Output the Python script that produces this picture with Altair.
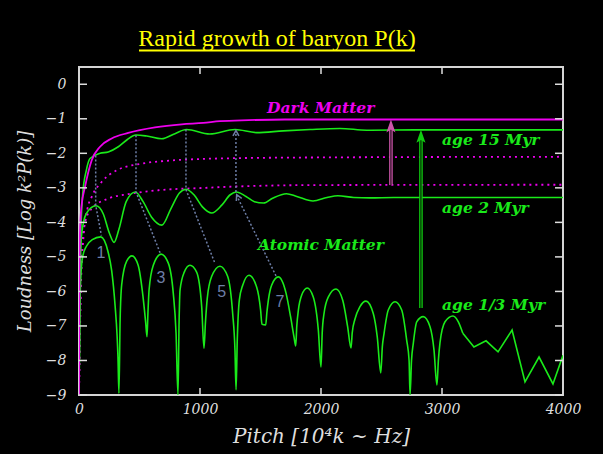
import altair as alt
import pandas as pd

# ---- data -------------------------------------------------------------
# Dark matter spectrum today
dm_k = [0, 3, 8, 20, 50, 105, 174, 270, 407, 628, 849, 1027, 1165, 1400, 1700, 2200, 4000]
dm_p = [-9.0, -6.0, -4.3, -3.55, -2.97, -2.2, -1.81, -1.57, -1.41, -1.25, -1.16, -1.12,
        -1.07, -1.04, -1.02, -1.02, -1.02]

# Dark matter at earlier epochs (dotted)
dm_mid_k = [0, 15, 40, 70, 105, 187, 325, 518, 793, 1041, 1303, 1965, 4000]
dm_mid_p = [-9.0, -6.0, -4.3, -3.6, -3.26, -2.83, -2.47, -2.3, -2.2, -2.16, -2.14, -2.12, -2.1]
dm_early_k = [0, 12, 25, 50, 105, 242, 407, 655, 1041, 1303, 1965, 4000]
dm_early_p = [-9.0, -6.2, -4.7, -4.0, -3.6, -3.31, -3.18, -3.07, -3.0, -2.96, -2.92, -2.91]

# Baryons at age 15 Myr
age15_k = [0, 10, 30, 60, 91, 174, 242, 325, 400, 470, 560, 683, 793, 888, 1080,
           1290, 1468, 1688, 1909, 2157, 2378, 2800, 4000]
age15_p = [-9.0, -5.0, -3.2, -2.5, -2.15, -2.0, -1.96, -1.81, -1.6, -1.47, -1.5, -1.58,
           -1.43, -1.31, -1.44, -1.31, -1.4, -1.35, -1.31, -1.28, -1.33, -1.32, -1.32]

# Baryons at age 2 Myr
age2_k = [0, 8, 20, 60, 140, 200, 250, 290, 330, 390, 465, 530, 600, 685, 760, 830, 885,
          950, 1020, 1097, 1180, 1250, 1300, 1380, 1450, 1525, 1600, 1715, 1800, 1934,
          2050, 2140, 2270, 2405, 2600, 4000]
age2_p = [-9.0, -6.0, -4.4, -3.75, -3.52, -3.75, -4.3, -4.58, -4.2, -3.4, -3.12, -3.4,
          -3.85, -4.08, -3.6, -3.15, -3.04, -3.2, -3.55, -3.73, -3.5, -3.2, -3.12, -3.25,
          -3.4, -3.44, -3.3, -3.17, -3.25, -3.38, -3.28, -3.23, -3.28, -3.29, -3.28, -3.28]

# Baryons (atomic matter) at age 1/3 Myr: acoustic peaks
atom_k = [0, 6, 15, 30, 60, 110, 180, 240, 270, 298, 315, 322, 330,
          340, 353, 394, 438, 489, 529, 551, 562,
          570, 579, 614, 678, 738, 779, 802, 818,
          827, 835, 870, 917, 972, 1014, 1033,
          1045, 1060, 1096, 1165, 1229, 1270, 1289, 1298,
          1308, 1325, 1353, 1405, 1468, 1501, 1512, 1543,
          1553, 1565, 1592, 1647, 1711, 1749, 1777, 1791,
          1800, 1813, 1840, 1886, 1936, 1978, 2000,
          2010, 2025, 2061, 2124, 2179, 2220, 2248,
          2258, 2281, 2322, 2372, 2432, 2465, 2494,
          2507, 2521, 2556, 2612, 2667, 2708, 2728, 2736,
          2748, 2763, 2791, 2845, 2901, 2934, 2958,
          2970, 2983, 3025, 3090, 3135, 3172]
atom_p = [-9.0, -6.8, -5.6, -5.0, -4.7, -4.5, -4.42, -4.85, -5.4, -6.4, -7.3, -7.9, -8.95,
          -6.8, -5.8, -5.12, -4.97, -5.24, -6.15, -6.9, -7.31,
          -6.6, -5.96, -5.24, -4.92, -5.18, -6.05, -7.2, -9.0,
          -6.9, -5.96, -5.44, -5.24, -5.44, -6.44, -7.65,
          -6.9, -6.2, -5.57, -5.27, -5.57, -6.64, -7.7, -8.85,
          -7.4, -6.25, -5.82, -5.53, -5.87, -6.54, -6.95, -6.97,
          -6.6, -6.25, -5.82, -5.58, -6.05, -6.74, -7.32, -7.58,
          -7.0, -6.54, -6.11, -5.9, -6.16, -7.12, -8.19,
          -7.2, -6.64, -6.16, -5.93, -6.25, -7.02, -7.64,
          -7.2, -6.8, -6.44, -6.28, -6.64, -7.32, -8.36,
          -7.6, -7.22, -6.54, -6.3, -6.54, -7.41, -8.0, -9.0,
          -8.0, -7.5, -6.88, -6.73, -7.02, -7.7, -8.71,
          -8.0, -7.5, -6.88, -6.71, -6.88, -7.21]
# unresolved high-k tail
tail_k = [3172, 3264, 3364, 3463, 3579, 3686, 3802, 3917, 4000]
tail_p = [-7.21, -7.61, -7.43, -7.75, -7.12, -8.62, -7.9, -8.68, -7.85]

# Dotted guides linking odd peaks across epochs
conn_id = [1, 1, 1, 3, 3, 3, 5, 5, 5, 6, 6, 7, 7]
conn_k = [138, 138, 185, 471, 471, 670, 884, 884, 1124, 1297, 1297, 1628, 1303]
conn_p = [-2.06, -3.5, -4.38, -1.48, -3.12, -4.88, -1.31, -3.05, -5.19, -3.12, -1.38, -5.55, -3.22]
guide_head_k = [1297, 1303]
guide_head_p = [-1.34, -3.2]

peak_text = ["1", "3", "5", "7"]
peak_k = [182, 678, 1179, 1661]
peak_p = [-4.9, -5.6, -6.01, -6.3]

# Growth arrows
dm_arrow_k = [2578]
dm_arrow_from = [-2.92]
dm_arrow_to = [-1.02]
bar_arrow_k = [2826]
bar_arrow_from = [-6.48]
bar_arrow_to = [-1.32]

green_text = ["age 15 Myr", "age 2 Myr", "Atomic Matter", "age 1/3 Myr"]
green_k = [3000, 3000, 1479, 3000]
green_p = [-1.62, -3.59, -4.66, -6.39]
dm_text = ["Dark Matter"]
dm_text_k = [1554]
dm_text_p = [-0.69]

x_ticks = [0, 1000, 2000, 3000, 4000]
x_inner_ticks = [1000, 2000, 3000]
y_ticks = [-9, -8, -7, -6, -5, -4, -3, -2, -1, 0]

# ---- style ------------------------------------------------------------
GREEN = "#1aea1a"
MAGENTA = "#ee00ee"
SLATE = "#6d7ea6"
PINK = "#cc55aa"
ARROW_GREEN = "#10cc10"
AXIS = "#dedede"
W, H = 484, 328

xs = alt.Scale(domain=[0, 4000], nice=False, zero=False)
ys = alt.Scale(domain=[-9, 0.5], nice=False, zero=False)

x_axis = alt.Axis(values=x_ticks, format="d", title="Pitch [10⁴k ~ Hz]", ticks=False,
                  domain=False, grid=False, labelFont="DejaVu Serif", labelFontStyle="italic",
                  labelFontSize=14, labelColor=AXIS, labelPadding=7, labelFlush=False,
                  titleFont="DejaVu Serif", titleFontStyle="italic", titleFontWeight="normal",
                  titleFontSize=20, titleColor=AXIS, titleX=W / 2, titleY=41,
                  titleAlign="center", titleBaseline="middle")
y_axis = alt.Axis(values=y_ticks, format="d", title="Loudness [Log k²P(k)]", ticks=False,
                  domain=False, grid=False, labelFont="DejaVu Serif", labelFontStyle="italic",
                  labelFontSize=14, labelColor=AXIS, labelPadding=13, labelFlush=False,
                  titleFont="DejaVu Serif", titleFontStyle="italic", titleFontWeight="normal",
                  titleFontSize=18, titleColor=AXIS, titleAngle=270, titleX=-54,
                  titleY=H / 2, titleAlign="center", titleBaseline="middle")

X = alt.X("k:Q", scale=xs, axis=x_axis)
Y = alt.Y("p:Q", scale=ys, axis=y_axis)


def df(k, p, **cols):
    d = pd.DataFrame({"k": k, "p": p})
    for name, vals in cols.items():
        d[name] = vals
    return d


def curve(k, p, color, width=1.6, dash=None, interp="monotone"):
    kw = dict(color=color, strokeWidth=width, interpolate=interp, clip=True)
    if dash:
        kw["strokeDash"] = dash
    return (alt.Chart(df(k, p, idx=list(range(len(k)))))
            .mark_line(**kw).encode(x=X, y=Y, order="idx:Q"))


layers = []

# dotted dark-matter curves
layers.append(curve(dm_mid_k, dm_mid_p, MAGENTA, 1.8, [2, 4]))
layers.append(curve(dm_early_k, dm_early_p, MAGENTA, 1.8, [2, 4]))

# baryon curves
layers.append(curve(age15_k, age15_p, GREEN))
layers.append(curve(age2_k, age2_p, GREEN))
layers.append(curve(atom_k, atom_p, GREEN))
layers.append(curve(tail_k, tail_p, GREEN, interp="linear"))

# dark matter today
layers.append(curve(dm_k, dm_p, MAGENTA, 1.8))

# dotted guides
layers.append(
    alt.Chart(df(conn_k, conn_p, seg=conn_id, idx=list(range(len(conn_id)))))
    .mark_line(color=SLATE, strokeWidth=1.5, strokeDash=[2, 2])
    .encode(x=X, y=Y, detail="seg:N", order="idx:Q")
)
layers.append(
    alt.Chart(df(guide_head_k, guide_head_p, ang=[0, 334]))
    .mark_point(shape="M-1,1.8L0,0L1,1.8", size=36, filled=False, color=SLATE, strokeWidth=1.5,
                opacity=1)
    .encode(x=X, y=Y, angle=alt.Angle("ang:Q", scale=None))
)

# growth arrows: double-stroke shafts with a filled head whose tip sits on the target
for k, p0, p1, col in [(dm_arrow_k, dm_arrow_from, dm_arrow_to, PINK),
                       (bar_arrow_k, bar_arrow_from, bar_arrow_to, ARROW_GREEN)]:
    shaft = df(k, p0, p2=[v - 0.25 for v in p1])
    layers.append(alt.Chart(shaft).mark_rule(color=col, strokeWidth=3.6)
                  .encode(x=X, y=Y, y2="p2:Q"))
    layers.append(alt.Chart(shaft).mark_rule(color="black", strokeWidth=1.0)
                  .encode(x=X, y=Y, y2="p2:Q"))
    layers.append(alt.Chart(df(k, p1)).mark_point(shape="M0,-1L-0.7,1L0,0.55L0.7,1Z", size=169,
                                                    filled=True, color=col, opacity=1)
                  .encode(x=X, y=Y, yOffset=alt.value(6.5)))

# peak numbers
layers.append(
    alt.Chart(df(peak_k, peak_p, t=peak_text))
    .mark_text(font="Liberation Sans", fontSize=16, color=SLATE, align="center",
               baseline="middle")
    .encode(x=X, y=Y, text="t:N")
)

# curve labels
label_style = dict(font="DejaVu Serif", fontStyle="italic", fontWeight="bold", fontSize=15.5,
                   align="left", baseline="middle")
layers.append(
    alt.Chart(df(green_k, green_p, t=green_text)).mark_text(color=GREEN, **label_style)
    .encode(x=X, y=Y, text="t:N")
)
layers.append(
    alt.Chart(df(dm_text_k, dm_text_p, t=dm_text)).mark_text(color=MAGENTA, **label_style)
    .encode(x=X, y=Y, text="t:N")
)

# inward tick marks on all four sides
yt = df([0] * len(y_ticks), y_ticks)
xt = df(x_inner_ticks, [0] * len(x_inner_ticks))
layers.append(alt.Chart(yt).mark_rule(color=AXIS, strokeWidth=1.5)
              .encode(y=Y, x=alt.value(0), x2=alt.value(8)))
layers.append(alt.Chart(yt).mark_rule(color=AXIS, strokeWidth=1.5)
              .encode(y=Y, x=alt.value(W - 8), x2=alt.value(W)))
layers.append(alt.Chart(xt).mark_rule(color=AXIS, strokeWidth=1.5)
              .encode(x=X, y=alt.value(H - 7), y2=alt.value(H)))
layers.append(alt.Chart(xt).mark_rule(color=AXIS, strokeWidth=1.5)
              .encode(x=X, y=alt.value(0), y2=alt.value(7)))

# heading with underline
heading = pd.DataFrame({"t": ["Rapid growth of baryon P(k)"]})
layers.append(alt.Chart(heading).mark_text(font="Liberation Serif", fontSize=24,
                                           color="#ffff00", align="center",
                                           baseline="alphabetic")
              .encode(text="t:N", x=alt.value(198), y=alt.value(-21)))
layers.append(alt.Chart(heading).mark_rule(color="#ffff00", strokeWidth=2)
              .encode(x=alt.value(60), x2=alt.value(336), y=alt.value(-16.5)))

chart = (
    alt.layer(*layers)
    .properties(width=W, height=H, autosize=alt.AutoSizeParams(type="none"),
                padding={"left": 79, "top": 67, "right": 40, "bottom": 59},
                background="black")
    .configure_view(stroke="#d4d4d4", strokeWidth=2)
)

chart.save("out.html", embed_options={"renderer": "svg", "actions": False})
